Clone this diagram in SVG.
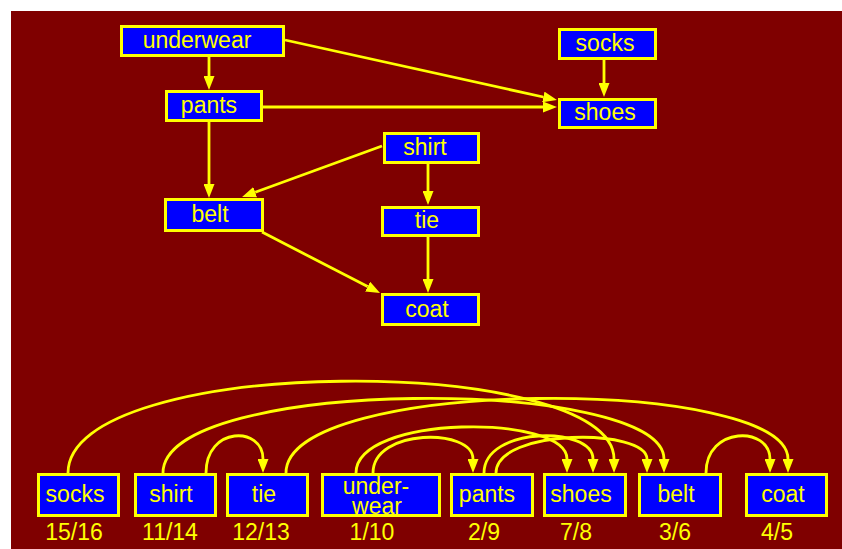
<svg xmlns="http://www.w3.org/2000/svg" width="842" height="549" viewBox="0 0 842 549">
<defs>
<marker id="ah" markerUnits="userSpaceOnUse" markerWidth="14" markerHeight="11" refX="0" refY="5.5" orient="auto" viewBox="0 0 14 11">
<path d="M0,0 L14,5.5 L0,11 z" fill="#ffff00"/>
</marker>
<style>
.box{fill:#0000ff;stroke:#ffff00;stroke-width:3}
.t{font-family:"Liberation Sans",Arial,sans-serif;font-size:23px;fill:#ffff00;text-anchor:middle}
.e{fill:none;stroke:#ffff00;stroke-width:2.8;marker-end:url(#ah)}
</style>
</defs>
<rect x="11" y="11" width="831" height="538" fill="#7f0000"/>
<g id="connectors">
<path class="e" d="M209,57 L209,76"/>
<path class="e" d="M285,40 L543.3,97"/>
<path class="e" d="M263,107 L543,107"/>
<path class="e" d="M604,60 L604,83"/>
<path class="e" d="M209,122 L209,184"/>
<path class="e" d="M382,146 L255.2,192.2"/>
<path class="e" d="M428,164 L428,191"/>
<path class="e" d="M262,232 L367.6,286.6"/>
<path class="e" d="M428,237 L428,279"/>
<path class="e" d="M68,473 C68,353 614,353 614,459"/>
<path class="e" d="M163,473 C163,376 664,376 664,459"/>
<path class="e" d="M286,473 C286,376 788,376 788,459"/>
<path class="e" d="M206,473 C206,426 263,426 263,459"/>
<path class="e" d="M356,473 C356,414 567,414 567,459"/>
<path class="e" d="M373,473 C373,428 473,428 473,459"/>
<path class="e" d="M484,473 C484,426 593,426 593,459"/>
<path class="e" d="M496,473 C496,428 647,428 647,459"/>
<path class="e" d="M706,473 C706,426 770,426 770,459"/>
</g>
<g id="underwear"><rect class="box" x="121.5" y="26.5" width="162" height="29"/><text class="t" x="197" y="48">underwear</text></g>
<g id="pants"><rect class="box" x="166.5" y="91.5" width="95" height="29"/><text class="t" x="209" y="113">pants</text></g>
<g id="socks"><rect class="box" x="559.5" y="29.5" width="96" height="29"/><text class="t" x="605" y="51">socks</text></g>
<g id="shoes"><rect class="box" x="559.5" y="99.5" width="96" height="28"/><text class="t" x="605" y="120">shoes</text></g>
<g id="shirt"><rect class="box" x="384.5" y="133.5" width="94" height="29"/><text class="t" x="425" y="155">shirt</text></g>
<g id="belt"><rect class="box" x="165.5" y="199.5" width="97" height="31"/><text class="t" x="210" y="222">belt</text></g>
<g id="tie"><rect class="box" x="382.5" y="207.5" width="96" height="28"/><text class="t" x="427" y="228">tie</text></g>
<g id="coat"><rect class="box" x="382.5" y="294.5" width="96" height="30"/><text class="t" x="427" y="317">coat</text></g>
<g id="b-socks"><rect class="box" x="38.5" y="474.5" width="80" height="41"/><text class="t" x="75" y="502">socks</text><text class="t" x="74" y="540">15/16</text></g>
<g id="b-shirt"><rect class="box" x="135.5" y="474.5" width="80" height="41"/><text class="t" x="171" y="502">shirt</text><text class="t" x="170" y="540">11/14</text></g>
<g id="b-tie"><rect class="box" x="227.5" y="474.5" width="80" height="41"/><text class="t" x="264" y="502">tie</text><text class="t" x="261" y="540">12/13</text></g>
<g id="b-underwear"><rect class="box" x="322.5" y="474.5" width="117" height="41"/><text class="t" x="376" y="494">under-</text><text class="t" x="377" y="514">wear</text><text class="t" x="372" y="540">1/10</text></g>
<g id="b-pants"><rect class="box" x="451.5" y="474.5" width="81" height="41"/><text class="t" x="487" y="502">pants</text><text class="t" x="484" y="540">2/9</text></g>
<g id="b-shoes"><rect class="box" x="544.5" y="474.5" width="81" height="41"/><text class="t" x="581" y="502">shoes</text><text class="t" x="576" y="540">7/8</text></g>
<g id="b-belt"><rect class="box" x="639.5" y="474.5" width="81" height="41"/><text class="t" x="676" y="502">belt</text><text class="t" x="675" y="540">3/6</text></g>
<g id="b-coat"><rect class="box" x="746.5" y="474.5" width="80" height="41"/><text class="t" x="783" y="502">coat</text><text class="t" x="777" y="540">4/5</text></g>
</svg>
